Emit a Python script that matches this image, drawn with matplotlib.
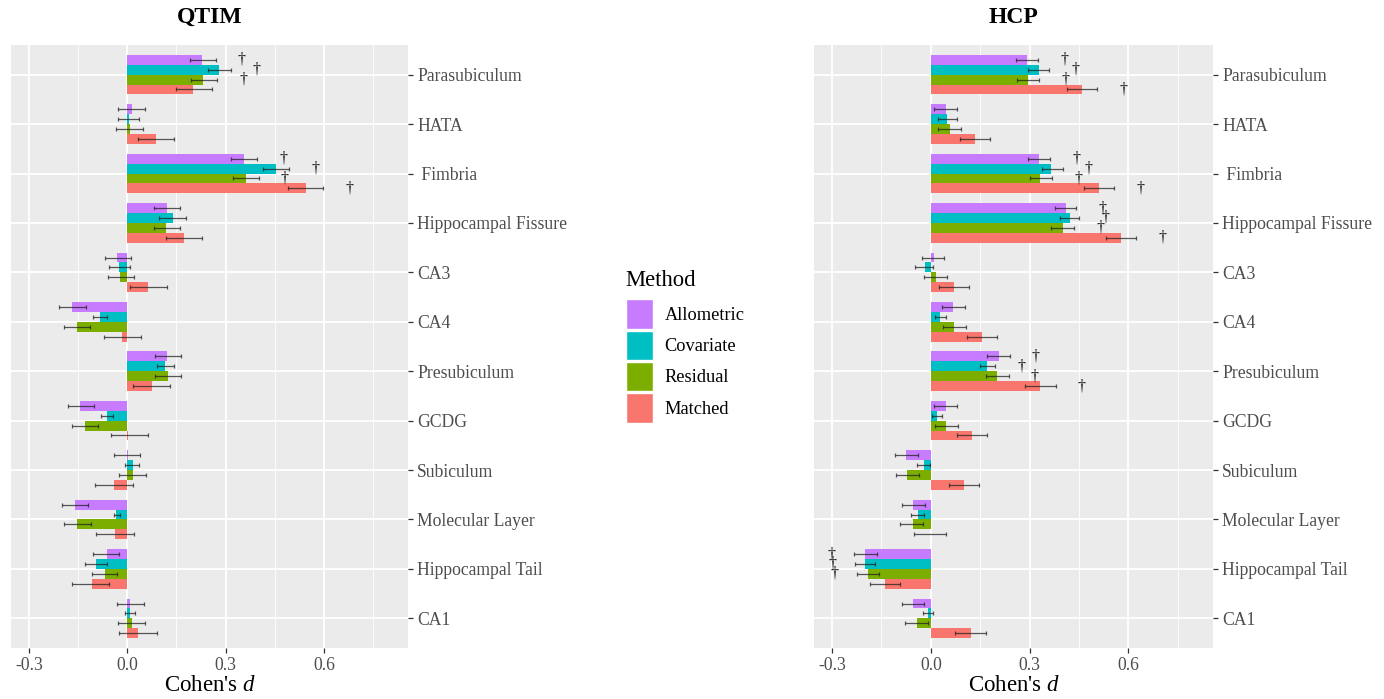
import numpy as np
import matplotlib.pyplot as plt
from matplotlib.patches import Patch

plt.rcParams['font.family'] = ['Liberation Serif', 'DejaVu Serif']
plt.rcParams['mathtext.fontset'] = 'custom'
plt.rcParams['mathtext.rm'] = 'Liberation Serif'
plt.rcParams['mathtext.it'] = 'Liberation Serif:italic'

regions = ['Parasubiculum', 'HATA', ' Fimbria', 'Hippocampal Fissure', 'CA3', 'CA4',
           'Presubiculum', 'GCDG', 'Subiculum', 'Molecular Layer', 'Hippocampal Tail', 'CA1']
methods = ['Allometric', 'Covariate', 'Residual', 'Matched']
colors = ['#C77CFF', '#00BFC4', '#7CAE00', '#F8766D']

# QTIM: estimate, lower, upper, significance per method (region order as above)
qtim_d = {
    'Allometric': [0.228, 0.013, 0.355, 0.122, -0.030, -0.169, 0.122, -0.143, 0.001, -0.161, -0.063, 0.008],
    'Covariate':  [0.280, 0.004, 0.453, 0.139, -0.025, -0.083, 0.114, -0.063, 0.016, -0.035, -0.097, 0.008],
    'Residual':   [0.232, 0.008, 0.363, 0.118, -0.021, -0.153, 0.123, -0.130, 0.016, -0.153, -0.067, 0.013],
    'Matched':    [0.202, 0.089, 0.545, 0.173, 0.062, -0.016, 0.076, 0.003, -0.042, -0.038, -0.109, 0.034],
}
qtim_lo = {
    'Allometric': [0.191, -0.028, 0.318, 0.081, -0.069, -0.207, 0.085, -0.181, -0.042, -0.198, -0.104, -0.030],
    'Covariate':  [0.245, -0.028, 0.415, 0.098, -0.057, -0.104, 0.090, -0.079, -0.006, -0.041, -0.129, -0.007],
    'Residual':   [0.195, -0.034, 0.322, 0.081, -0.059, -0.193, 0.085, -0.170, -0.024, -0.192, -0.108, -0.028],
    'Matched':    [0.150, 0.032, 0.491, 0.119, 0.008, -0.072, 0.018, -0.050, -0.098, -0.096, -0.168, -0.024],
}
qtim_hi = {
    'Allometric': [0.270, 0.053, 0.397, 0.161, 0.012, -0.127, 0.164, -0.102, 0.040, -0.119, -0.025, 0.050],
    'Covariate':  [0.316, 0.037, 0.494, 0.179, 0.007, -0.063, 0.142, -0.043, 0.037, -0.022, -0.063, 0.024],
    'Residual':   [0.275, 0.049, 0.401, 0.161, 0.020, -0.114, 0.164, -0.090, 0.056, -0.111, -0.030, 0.054],
    'Matched':    [0.260, 0.143, 0.599, 0.228, 0.122, 0.042, 0.131, 0.062, 0.016, 0.020, -0.055, 0.091],
}
qtim_sig = {
    'Allometric': [1, 0, 1, 0, 0, 0, 0, 0, 0, 0, 0, 0],
    'Covariate':  [1, 0, 1, 0, 0, 0, 0, 0, 0, 0, 0, 0],
    'Residual':   [1, 0, 1, 0, 0, 0, 0, 0, 0, 0, 0, 0],
    'Matched':    [0, 0, 1, 0, 0, 0, 0, 0, 0, 0, 0, 0],
}

# HCP
hcp_d = {
    'Allometric': [0.291, 0.046, 0.328, 0.409, 0.008, 0.067, 0.206, 0.046, -0.077, -0.055, -0.199, -0.055],
    'Covariate':  [0.328, 0.050, 0.366, 0.422, -0.017, 0.029, 0.172, 0.020, -0.021, -0.038, -0.199, -0.009],
    'Residual':   [0.295, 0.059, 0.333, 0.401, 0.016, 0.071, 0.202, 0.046, -0.073, -0.055, -0.190, -0.043],
    'Matched':    [0.460, 0.134, 0.510, 0.577, 0.071, 0.156, 0.333, 0.126, 0.100, 0.001, -0.140, 0.121],
}
hcp_lo = {
    'Allometric': [0.259, 0.011, 0.296, 0.377, -0.026, 0.034, 0.171, 0.011, -0.110, -0.089, -0.233, -0.089],
    'Covariate':  [0.296, 0.021, 0.338, 0.391, -0.047, 0.013, 0.148, 0.004, -0.043, -0.061, -0.229, -0.025],
    'Residual':   [0.261, 0.023, 0.301, 0.366, -0.020, 0.038, 0.166, 0.013, -0.105, -0.093, -0.224, -0.080],
    'Matched':    [0.414, 0.089, 0.465, 0.531, 0.025, 0.110, 0.287, 0.080, 0.054, -0.050, -0.185, 0.074],
}
hcp_hi = {
    'Allometric': [0.326, 0.078, 0.362, 0.442, 0.041, 0.103, 0.239, 0.079, -0.039, -0.019, -0.164, -0.021],
    'Covariate':  [0.360, 0.078, 0.400, 0.450, 0.007, 0.045, 0.195, 0.035, -0.002, -0.021, -0.170, 0.006],
    'Residual':   [0.328, 0.091, 0.367, 0.434, 0.049, 0.107, 0.236, 0.083, -0.035, -0.023, -0.157, -0.010],
    'Matched':    [0.505, 0.180, 0.556, 0.624, 0.116, 0.202, 0.379, 0.172, 0.147, 0.045, -0.094, 0.167],
}
hcp_sig = {
    'Allometric': [1, 0, 1, 1, 0, 0, 1, 0, 0, 0, 1, 0],
    'Covariate':  [1, 0, 1, 1, 0, 0, 1, 0, 0, 0, 1, 0],
    'Residual':   [1, 0, 1, 1, 0, 0, 1, 0, 0, 0, 1, 0],
    'Matched':    [1, 0, 1, 1, 0, 0, 1, 0, 0, 0, 0, 0],
}

fig = plt.figure(figsize=(13.84, 6.99), dpi=100)
W, H = 1384, 699
ax1 = fig.add_axes([11 / W, 51 / H, 397 / W, 603 / H])
ax2 = fig.add_axes([814 / W, 51 / H, 399 / W, 603 / H])

ypos = np.arange(len(regions))[::-1] + 1.0
offsets = [0.3, 0.1, -0.1, -0.3]


def draw(ax, title, d, lo, hi, sig):
    ax.set_facecolor('#EBEBEB')
    for sp in ax.spines.values():
        sp.set_visible(False)
    for m, c, off in zip(methods, colors, offsets):
        y = ypos + off
        v = np.array(d[m])
        ax.barh(y, v, height=0.2, color=c, zorder=2)
        l = np.array(lo[m])
        h = np.array(hi[m])
        ax.errorbar((l + h) / 2, y, xerr=(h - l) / 2, fmt='none', ecolor='#222222',
                    elinewidth=0.9, capsize=1.5, capthick=0.9, alpha=0.75, zorder=3)
        for yi, vi, li, hi_, s in zip(y, v, l, h, sig[m]):
            if s:
                xd = hi_ + 0.08 if vi >= 0 else li - 0.07
                ax.text(xd, yi, '\u2020', ha='center', va='center', fontsize=11.5,
                        color='#111111', zorder=4)
    ax.set_xlim(-0.355, 0.857)
    ax.set_ylim(0.4, 12.6)
    ax.set_xticks([-0.3, 0.0, 0.3, 0.6])
    ax.set_xticklabels(['-0.3', '0.0', '0.3', '0.6'])
    ax.set_xticks([-0.15, 0.15, 0.45, 0.75], minor=True)
    ax.set_yticks(ypos)
    ax.set_yticklabels(regions)
    ax.yaxis.tick_right()
    ax.grid(True, which='major', color='white', linewidth=1.3, zorder=0)
    ax.grid(True, which='minor', axis='x', color='white', linewidth=0.6, zorder=0)
    ax.set_axisbelow(True)
    ax.tick_params(axis='both', which='major', colors='#333333', labelcolor='#4D4D4D',
                   labelsize=12.7, length=3.5, width=0.9, pad=3)
    ax.tick_params(axis='x', which='minor', length=0)
    ax.set_xlabel("Cohen's $\\it{d}$", fontsize=16.5, labelpad=1)
    ax.set_title(title, fontsize=17, fontweight='bold', pad=16)


draw(ax1, 'QTIM', qtim_d, qtim_lo, qtim_hi, qtim_sig)
draw(ax2, 'HCP', hcp_d, hcp_lo, hcp_hi, hcp_sig)

handles = [Patch(facecolor=c, edgecolor='white', linewidth=1, label=m)
           for m, c in zip(methods, colors)]
leg = fig.legend(handles=handles, title='Method', loc='upper left',
                 bbox_to_anchor=(613 / W, 1 - 257 / H), frameon=False,
                 fontsize=13.2, title_fontsize=16.3, handlelength=1.5, handleheight=2.1,
                 labelspacing=0.1, handletextpad=0.6, alignment='left', borderpad=0.2)
leg._legend_box.sep = 6

fig.savefig('out.png', dpi=100)
